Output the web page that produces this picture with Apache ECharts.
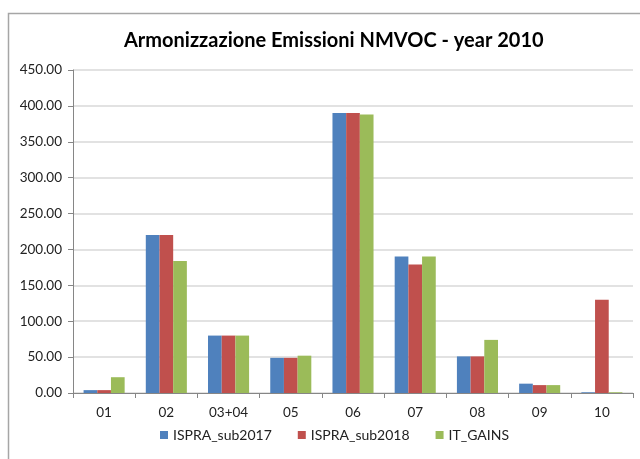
<!DOCTYPE html>
<html>
<head>
<meta charset="utf-8">
<script src="https://cdn.jsdelivr.net/npm/echarts@6/dist/echarts.min.js"></script>
<style>
  html, body { margin: 0; padding: 0; background: #fff; }
  #chart { width: 640px; height: 459px; }
</style>
</head>
<body>
<div id="chart"></div>
<script>
// dati
const categories = ['01', '02', '03+04', '05', '06', '07', '08', '09', '10']
const ispra2017 = [4, 220, 80, 49, 390, 190, 51, 13, 1]
const ispra2018 = [4, 220, 80, 49, 390, 179, 51, 11, 130]
const itGains = [22, 184, 80, 52, 388, 190, 74, 11, 1]

const font = 'Lato, "Open Sans", sans-serif'
const chart = echarts.init(document.getElementById('chart'))

const option = {
  animation: false,
  color: ['#4f81bd', '#c0504d', '#9bbb59'],
  title: {
    text: 'Armonizzazione Emissioni NMVOC - year 2010',
    left: 119,
    top: 26,
    textStyle: {
      color: '#000000',
      fontFamily: font,
      fontWeight: 'bold',
      fontSize: 20
    }
  },
  graphic: [{
    type: 'rect',
    shape: {x: 8.5, y: 13.5, width: 660, height: 470},
    style: {fill: null, stroke: '#a6a6a6', lineWidth: 1.5},
    silent: true
  }],
  legend: {
    bottom: 12,
    left: 155,
    itemWidth: 8,
    itemHeight: 8,
    itemGap: 26,
    icon: 'rect',
    textStyle: {
      color: '#222',
      fontFamily: font,
      fontSize: 14
    }
  },
  grid: {
    left: 73,
    right: 7,
    top: 70,
    bottom: 66
  },
  xAxis: {
    type: 'category',
    data: categories,
    axisLine: {lineStyle: {color: '#868686'}},
    axisTick: {show: true, length: 5, lineStyle: {color: '#868686'}},
    axisLabel: {
      color: '#222',
      fontFamily: font,
      fontSize: 13.5,
      margin: 13
    }
  },
  yAxis: {
    type: 'value',
    min: 0,
    max: 450,
    interval: 50,
    axisLine: {show: true, lineStyle: {color: '#868686'}},
    axisTick: {show: true, length: 5, lineStyle: {color: '#868686'}},
    splitLine: {lineStyle: {color: '#d9d9d9', width: 1.5}},
    axisLabel: {
      color: '#222',
      fontFamily: font,
      fontSize: 13.5,
      margin: 11,
      formatter: v => v.toFixed(2)
    }
  },
  series: [
    {name: 'ISPRA_sub2017', type: 'bar', data: ispra2017, barGap: '0%', barCategoryGap: '34%'},
    {name: 'ISPRA_sub2018', type: 'bar', data: ispra2018, barGap: '0%', barCategoryGap: '34%'},
    {name: 'IT_GAINS', type: 'bar', data: itGains, barGap: '0%', barCategoryGap: '34%'}
  ]
}

chart.setOption(option)
window.addEventListener('resize', () => {
  chart.resize()
})
</script>
</body>
</html>
